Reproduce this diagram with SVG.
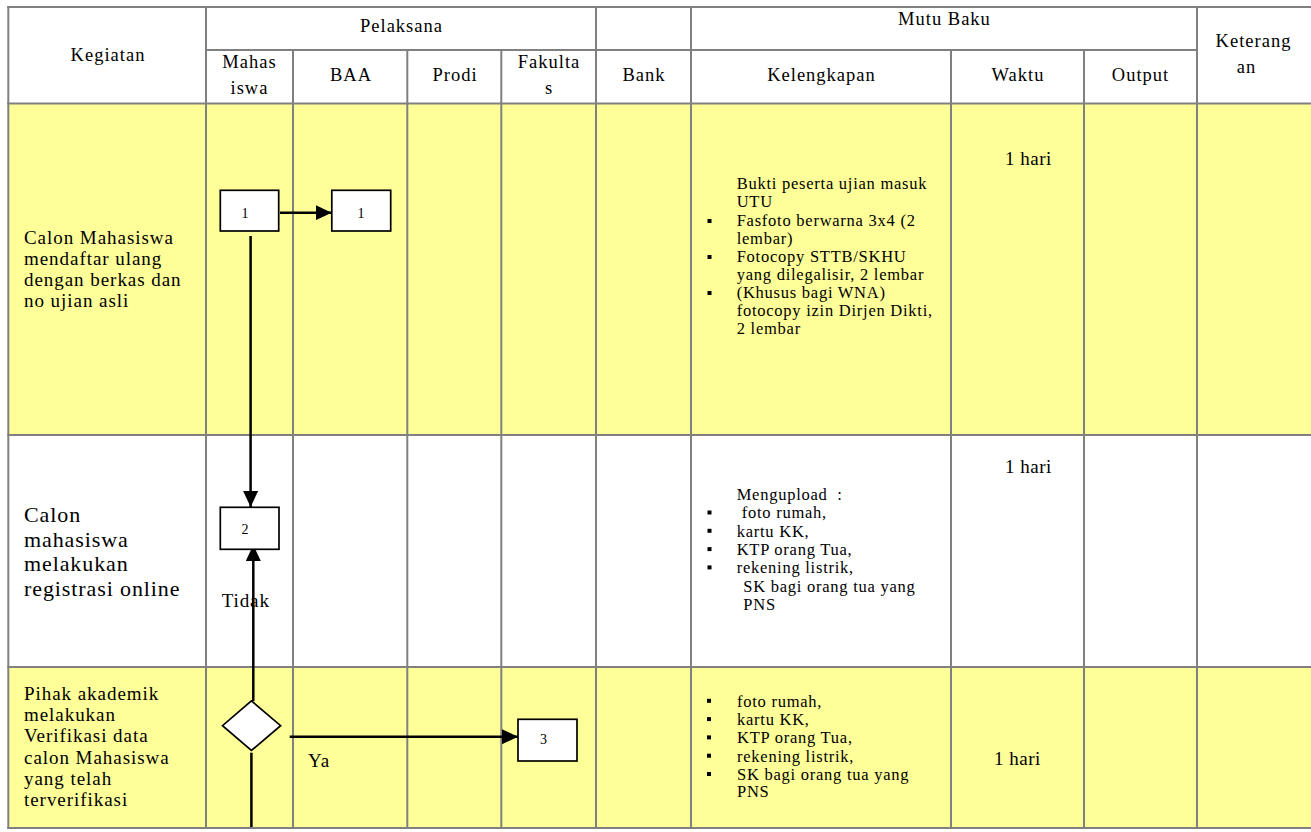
<svg xmlns="http://www.w3.org/2000/svg" width="1311" height="832" viewBox="0 0 1311 832">
<style>
text{font-family:"Liberation Serif","Times New Roman",serif;fill:#000}
.hd{font-size:18.5px;letter-spacing:1px}
.hc{text-anchor:middle}
.kg{font-size:19px;letter-spacing:0.95px}
.kg2{font-size:22px;letter-spacing:0.9px}
.kl{font-size:16.5px;letter-spacing:0.75px}
.wk{font-size:19px;letter-spacing:0.5px}
.lb{font-size:19px;letter-spacing:0.9px}
.num{font-size:14px;text-anchor:middle}
.grid line{stroke:#808080;stroke-width:2}
.nd{fill:#fff;stroke:#000;stroke-width:1.7}
.cn{stroke:#000;stroke-width:2.5;fill:none}
.bl{fill:#000}
</style>
<defs>
<marker id="ah" markerUnits="userSpaceOnUse" markerWidth="16" markerHeight="15" refX="16" refY="7.5" orient="auto">
<path d="M0,0 L16,7.5 L0,15 z" fill="#000"/>
</marker>
</defs>
<rect width="1311" height="832" fill="#fff"/>
<g id="table">
<rect x="8" y="103.5" width="1304" height="331.5" fill="#ffff99"/>
<rect x="8" y="667" width="1304" height="161" fill="#ffff99"/>
<g class="grid">
<line x1="7.3" y1="7" x2="1312" y2="7"/>
<line x1="206" y1="50" x2="1197" y2="50"/>
<line x1="7.3" y1="103.5" x2="1312" y2="103.5"/>
<line x1="7.3" y1="435" x2="1312" y2="435"/>
<line x1="7.3" y1="667" x2="1312" y2="667"/>
<line x1="7.3" y1="828" x2="1312" y2="828"/>
<line x1="8.3" y1="6" x2="8.3" y2="829"/>
<line x1="206" y1="7" x2="206" y2="828"/>
<line x1="293" y1="50" x2="293" y2="828"/>
<line x1="407.3" y1="50" x2="407.3" y2="828"/>
<line x1="501.3" y1="50" x2="501.3" y2="828"/>
<line x1="596" y1="7" x2="596" y2="828"/>
<line x1="691" y1="7" x2="691" y2="828"/>
<line x1="951" y1="50" x2="951" y2="828"/>
<line x1="1084" y1="50" x2="1084" y2="828"/>
<line x1="1197" y1="7" x2="1197" y2="828"/>
</g>
<g id="header">
<text class="hd hc" x="108" y="60.5">Kegiatan</text>
<text class="hd hc" x="401.5" y="32">Pelaksana</text>
<text class="hd hc" x="944.5" y="25">Mutu Baku</text>
<text class="hd hc" x="249.5" y="67.5">Mahas</text>
<text class="hd hc" x="249.5" y="94">iswa</text>
<text class="hd hc" x="351" y="81">BAA</text>
<text class="hd hc" x="455" y="81">Prodi</text>
<text class="hd hc" x="549" y="67.5">Fakulta</text>
<text class="hd hc" x="549" y="94">s</text>
<text class="hd hc" x="644" y="81">Bank</text>
<text class="hd hc" x="821.5" y="81">Kelengkapan</text>
<text class="hd hc" x="1018" y="81">Waktu</text>
<text class="hd hc" x="1140.5" y="81">Output</text>
<text class="hd hc" x="1253.5" y="46.7">Keterang</text>
<text class="hd hc" x="1246.5" y="72.7">an</text>
</g>
<g id="kegiatan">
<text class="kg" x="24" y="243.5">Calon Mahasiswa</text>
<text class="kg" x="24" y="264.8">mendaftar ulang</text>
<text class="kg" x="24" y="286.1">dengan berkas dan</text>
<text class="kg" x="24" y="307.4">no ujian asli</text>
<text class="kg2" x="24" y="522">Calon</text>
<text class="kg2" x="24" y="546.5">mahasiswa</text>
<text class="kg2" x="24" y="571">melakukan</text>
<text class="kg2" x="24" y="595.5">registrasi online</text>
<text class="kg" x="24" y="700">Pihak akademik</text>
<text class="kg" x="24" y="721.2">melakukan</text>
<text class="kg" x="24" y="742.4">Verifikasi data</text>
<text class="kg" x="24" y="763.6">calon Mahasiswa</text>
<text class="kg" x="24" y="784.8">yang telah</text>
<text class="kg" x="24" y="806">terverifikasi</text>
</g>
<g id="kelengkapan">
<text class="kl" x="736.7" y="189.3">Bukti peserta ujian masuk</text>
<text class="kl" x="736.7" y="207.4">UTU</text>
<rect class="bl" x="707.5" y="219" width="4" height="4"/>
<text class="kl" x="736.7" y="225.5">Fasfoto berwarna 3x4 (2</text>
<text class="kl" x="736.7" y="243.6">lembar)</text>
<rect class="bl" x="707.5" y="255" width="4" height="4"/>
<text class="kl" x="736.7" y="261.7">Fotocopy STTB/SKHU</text>
<text class="kl" x="736.7" y="279.8">yang dilegalisir, 2 lembar</text>
<rect class="bl" x="707.5" y="291" width="4" height="4"/>
<text class="kl" x="736.7" y="297.9">(Khusus bagi WNA)</text>
<text class="kl" x="736.7" y="316">fotocopy izin Dirjen Dikti,</text>
<text class="kl" x="736.7" y="334.1">2 lembar</text>

<text class="kl" x="736.7" y="500" xml:space="preserve">Mengupload  :</text>
<rect class="bl" x="707.5" y="510.5" width="4" height="4"/>
<text class="kl" x="741.7" y="518.3">foto rumah,</text>
<rect class="bl" x="707.5" y="528.8" width="4" height="4"/>
<text class="kl" x="736.7" y="536.7">kartu KK,</text>
<rect class="bl" x="707.5" y="547.1" width="4" height="4"/>
<text class="kl" x="736.7" y="555">KTP orang Tua,</text>
<rect class="bl" x="707.5" y="565.4" width="4" height="4"/>
<text class="kl" x="736.7" y="573.3">rekening listrik,</text>
<text class="kl" x="743.3" y="591.7">SK bagi orang tua yang</text>
<text class="kl" x="743.3" y="610">PNS</text>

<rect class="bl" x="707" y="698.8" width="4" height="4"/>
<text class="kl" x="737" y="706.7">foto rumah,</text>
<rect class="bl" x="707" y="717.1" width="4" height="4"/>
<text class="kl" x="737" y="725">kartu KK,</text>
<rect class="bl" x="707" y="735.4" width="4" height="4"/>
<text class="kl" x="737" y="743.3">KTP orang Tua,</text>
<rect class="bl" x="707" y="753.7" width="4" height="4"/>
<text class="kl" x="737" y="761.7">rekening listrik,</text>
<rect class="bl" x="707" y="772" width="4" height="4"/>
<text class="kl" x="737" y="780">SK bagi orang tua yang</text>
<text class="kl" x="737" y="797.3">PNS</text>
</g>
<g id="waktu">
<text class="wk" x="1005" y="165">1 hari</text>
<text class="wk" x="1005" y="473.3">1 hari</text>
<text class="wk" x="994" y="765">1 hari</text>
</g>
</g>
<g id="connectors">
<line class="cn" x1="280" y1="212.7" x2="331.7" y2="212.7" marker-end="url(#ah)"/>
<line class="cn" x1="250.6" y1="236" x2="250.6" y2="507" marker-end="url(#ah)"/>
<line class="cn" x1="253.3" y1="701" x2="253.3" y2="545" marker-end="url(#ah)"/>
<line class="cn" x1="251.4" y1="752.7" x2="251.4" y2="827"/>
<line class="cn" x1="289.7" y1="736.7" x2="518" y2="736.7" marker-end="url(#ah)"/>
<text class="lb" x="221.7" y="606.7">Tidak</text>
<text class="lb" x="308" y="767.3">Ya</text>
</g>
<g id="node-1a">
<rect class="nd" x="220.3" y="190.3" width="58.4" height="40.7"/>
<text class="num" x="245" y="218">1</text>
</g>
<g id="node-1b">
<rect class="nd" x="331.8" y="190.3" width="58.9" height="40.7"/>
<text class="num" x="361" y="218">1</text>
</g>
<g id="node-2">
<rect class="nd" x="220.3" y="507.3" width="58.7" height="42"/>
<text class="num" x="245" y="534">2</text>
</g>
<g id="node-decision">
<polygon class="nd" points="251.4,700.8 280.6,725.7 251.4,750.5 222.5,725.7"/>
</g>
<g id="node-3">
<rect class="nd" x="518" y="719.3" width="59" height="41.7"/>
<text class="num" x="543.5" y="744.3">3</text>
</g>
</svg>
